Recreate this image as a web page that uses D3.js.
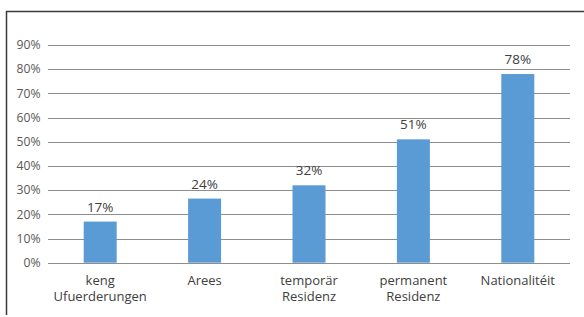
<!DOCTYPE html>
<html>
<head>
<meta charset="utf-8">
<script src="https://cdn.jsdelivr.net/npm/d3@7"></script>
<style>
  body { margin: 0; background: #fff; }
  svg { display: block; font-family: "Open Sans", sans-serif; }
</style>
</head>
<body>
<div id="chart"></div>
<script>
// chart data
let categories = [["keng", "Ufuerderungen"], ["Arees"], ["temporär", "Residenz"], ["permanent", "Residenz"], ["Nationalitéit"]];
let values = [17, 26.5, 32, 51, 78];
let valueLabels = ["17%", "24%", "32%", "51%", "78%"];
let yTicks = [0, 10, 20, 30, 40, 50, 60, 70, 80, 90];

let width = 584, height = 317;
let margin = {top: 45, right: 14, bottom: 54.3, left: 48};

let svg = d3.select("#chart")
    .append("svg")
    .attr("width", width)
    .attr("height", height);

// frame (top and left edges are visible)
svg.append("path")
    .attr("d", "M6.5,315 L6.5,11.5 L584,11.5")
    .attr("fill", "none")
    .attr("stroke", "#3a3a3a")
    .attr("stroke-width", 1.5);

let x = d3.scaleBand()
    .domain(d3.range(categories.length))
    .range([margin.left, width - margin.right])
    .paddingInner(0.684)
    .paddingOuter(0.342);

let y = d3.scaleLinear()
    .domain([0, 90])
    .range([height - margin.bottom, margin.top]);

// gridlines
svg.append("g")
    .selectAll("line")
    .data(yTicks)
    .join("line")
    .attr("x1", margin.left)
    .attr("x2", width - margin.right)
    .attr("y1", d => Math.round(y(d)) + 0.5)
    .attr("y2", d => Math.round(y(d)) + 0.5)
    .attr("stroke", "#8e8e8e")
    .attr("stroke-width", 1);

// y tick labels
svg.append("g")
    .selectAll("text")
    .data(yTicks)
    .join("text")
    .attr("x", 40.5)
    .attr("y", d => y(d))
    .attr("dy", "0.35em")
    .attr("text-anchor", "end")
    .attr("fill", "#595959")
    .attr("font-size", 12.2)
    .text(d => d + "%");

// bars
svg.append("g")
    .selectAll("rect")
    .data(values)
    .join("rect")
    .attr("x", (d, i) => x(i))
    .attr("y", d => y(d))
    .attr("width", x.bandwidth())
    .attr("height", d => y(0) - y(d))
    .attr("fill", "#5b9bd5");

// value labels
svg.append("g")
    .selectAll("text")
    .data(values)
    .join("text")
    .attr("x", (d, i) => x(i) + x.bandwidth() / 2)
    .attr("y", d => y(d) - 10)
    .attr("text-anchor", "middle")
    .attr("fill", "#404040")
    .attr("font-size", 13.5)
    .text((d, i) => valueLabels[i]);

// category labels, one text per line
let catLines = [];
categories.forEach((lines, i) => {
    lines.forEach((t, j) => catLines.push({i: i, j: j, t: t}));
});

svg.append("g")
    .selectAll("text")
    .data(catLines)
    .join("text")
    .attr("x", d => x(d.i) + x.bandwidth() / 2)
    .attr("y", d => height - margin.bottom + 22 + d.j * 16.5)
    .attr("text-anchor", "middle")
    .attr("fill", "#404040")
    .attr("font-size", 13)
    .text(d => d.t);
</script>
</body>
</html>
